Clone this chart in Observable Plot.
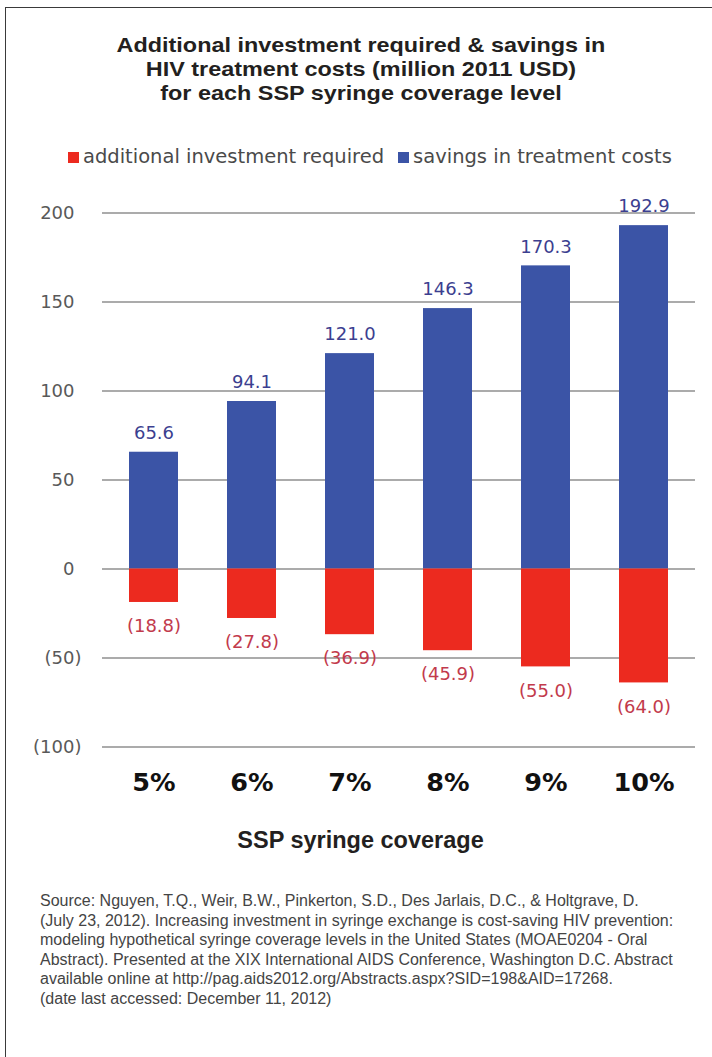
<!DOCTYPE html>
<html>
<head>
<meta charset="utf-8">
<script src="https://cdn.jsdelivr.net/npm/d3@7"></script>
<script src="https://cdn.jsdelivr.net/npm/@observablehq/plot@0.6"></script>
<style>
  body { margin: 0; background: #fff; width: 712px; height: 1057px; position: relative; overflow: hidden; }
  #frame { position: absolute; left: 5px; top: 7px; width: 760px; height: 1120px;
           border-left: 1.5px solid #3a3a3a; border-top: 1.5px solid #3a3a3a; }
  #title { position: absolute; left: 0; width: 722px; top: 33px; text-align: center;
           font: bold 20.8px/24px "Liberation Sans", Arial, sans-serif; color: #231f20;
           transform: scaleX(1.125); transform-origin: 361px 0; }
  #legend { position: absolute; left: 68px; top: 145px; display: flex;
            align-items: center; font: 19.5px/24px "DejaVu Sans", Verdana, sans-serif; color: #4a4a4a; white-space: nowrap; }
  #legend .item { display: flex; align-items: center; margin-right: 14px; }
  #legend .sw { width: 11px; height: 11px; margin-right: 4px; }
  #chart { position: absolute; left: 0; top: 190px; }
  #source { position: absolute; left: 40px; top: 891px; width: 680px;
            font: 16px/19.5px "Liberation Sans", Arial, sans-serif; color: #444; white-space: nowrap; }
</style>
</head>
<body>
<div id="frame"></div>
<div id="title">Additional investment required &amp; savings in<br>HIV treatment costs (million 2011 USD)<br>for each SSP syringe coverage level</div>
<div id="legend"></div>
<div id="chart"></div>
<div id="source"></div>
<script>
// ---- data ----
const coverage = ["5%", "6%", "7%", "8%", "9%", "10%"];
const savings = [65.6, 94.1, 121.0, 146.3, 170.3, 192.9];
const investment = [-18.8, -27.8, -36.9, -45.9, -55.0, -64.0];
const seriesNames = ["additional investment required", "savings in treatment costs"];
const yTicks = [-100, -50, 0, 50, 100, 150, 200];
const xTitle = "SSP syringe coverage";
const sourceLines = [
  "Source: Nguyen, T.Q., Weir, B.W., Pinkerton, S.D., Des Jarlais, D.C., & Holtgrave, D.",
  "(July 23, 2012). Increasing investment in syringe exchange is cost-saving HIV prevention:",
  "modeling hypothetical syringe coverage levels in the United States (MOAE0204 - Oral",
  "Abstract). Presented at the XIX International AIDS Conference, Washington D.C. Abstract",
  "available online at http://pag.aids2012.org/Abstracts.aspx?SID=198&AID=17268.",
  "(date last accessed: December 11, 2012)"
];

// ---- styles ----
const RED = "#ec2a1f", BLUE = "#3b54a6";
const RED_TEXT = "#c23a4c", BLUE_TEXT = "#3c3f90";
const colors = [RED, BLUE];

// legend
const legend = document.getElementById("legend");
seriesNames.forEach((name, i) => {
  const item = document.createElement("div");
  item.className = "item";
  const sw = document.createElement("div");
  sw.className = "sw";
  sw.style.background = colors[i];
  item.appendChild(sw);
  item.appendChild(document.createTextNode(name));
  legend.appendChild(item);
});

// source
document.getElementById("source").innerHTML = sourceLines.map(s => s.replace(/&/g, "&amp;")).join("<br>");

const sav = coverage.map((c, i) => ({c, v: savings[i], s: seriesNames[1]}));
const inv = coverage.map((c, i) => ({c, v: investment[i], s: seriesNames[0]}));

const fontF = "DejaVu Sans, Verdana, sans-serif";

const chart = Plot.plot({
  width: 712,
  height: 670,
  marginTop: 22.5,
  marginBottom: 113.5,
  marginLeft: 102,
  marginRight: 17,
  style: {fontFamily: fontF, background: "transparent", overflow: "visible"},
  x: {domain: coverage, paddingInner: 0.5, paddingOuter: 0.25},
  y: {domain: [-100, 200]},
  color: {domain: seriesNames, range: colors},
  marks: [
    Plot.ruleY(yTicks, {stroke: "#8f8f8f", strokeWidth: 1.4}),
    Plot.barY(sav, {x: "c", y: "v", fill: "s"}),
    Plot.barY(inv, {x: "c", y: "v", fill: "s"}),
    Plot.axisX({tickSize: 0, tickPadding: 26, fontSize: 25.5, fontWeight: "bold", fill: "#111", label: null, fontFamily: fontF}),
    Plot.axisY({ticks: yTicks.filter(d => d >= 0), tickSize: 0, tickPadding: 28, fontSize: 18, fill: "#595959", label: null, tickFormat: d => String(d)}),
    Plot.axisY({ticks: yTicks.filter(d => d < 0), tickSize: 0, tickPadding: 21, fontSize: 18, fill: "#595959", label: null, tickFormat: d => `(${-d})`}),
    Plot.text(sav, {x: "c", y: "v", text: d => d.v.toFixed(1), dy: -19, lineAnchor: "middle", fontSize: 18, fill: BLUE_TEXT}),
    Plot.text(inv, {x: "c", y: "v", text: d => `(${(-d.v).toFixed(1)})`, dy: 24, lineAnchor: "middle", fontSize: 18, fill: RED_TEXT}),
    Plot.text([xTitle], {frameAnchor: "bottom", dx: -38.5, dy: 93.5, lineAnchor: "middle", fontSize: 23.5, fontWeight: "bold", fill: "#231f20", fontFamily: "Liberation Sans, Arial, sans-serif"})
  ]
});
document.getElementById("chart").appendChild(chart);
</script>
</body>
</html>
